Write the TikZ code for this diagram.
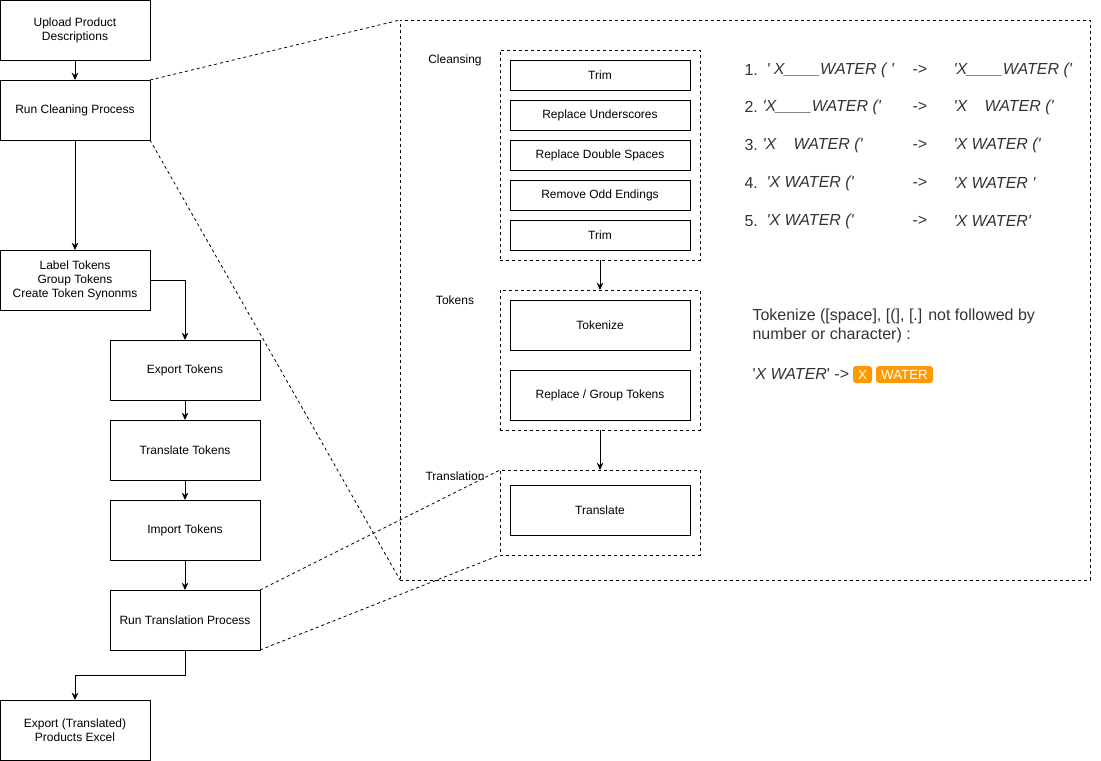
\documentclass[tikz,border=0pt]{standalone}
\usepackage{fontspec}
\newfontfamily\arialfont{Liberation Sans}
\usetikzlibrary{positioning,arrows.meta}
\definecolor{tokenorange}{HTML}{FF9900}
\definecolor{notegray}{HTML}{333333}

\begin{document}
\begin{tikzpicture}[x=0.75pt, y=-0.75pt, line width=0.75pt,
    font=\arialfont\fontsize{9}{10.5}\selectfont,
    >={Stealth[length=5.5pt,width=5pt]},
    box/.style={draw, rectangle, minimum width=112.5pt, minimum height=45pt, align=center, inner sep=1pt, outer sep=0pt},
    task/.style={draw, rectangle, minimum width=135pt, minimum height=22.5pt, align=center, inner sep=1pt, outer sep=0pt},
    group/.style={draw, rectangle, dashed, dash pattern=on 2.25pt off 2.25pt, line width=0.6pt, minimum width=150pt, outer sep=0pt},
    zoomline/.style={dashed, dash pattern=on 2.25pt off 2.25pt, line width=0.6pt},
    note/.style={anchor=west, inner sep=0pt, text=notegray, font=\arialfont\fontsize{12}{14}\selectfont},
    badge/.style={fill=tokenorange, text=white, rounded corners=2.25pt, inner sep=0pt, minimum height=12.75pt, font=\arialfont\fontsize{10}{12}\selectfont}]
    \useasboundingbox (0,0) rectangle (1101,761);

    % main flow
    \node (upload) [box] at (75,30) {Upload Product\\Descriptions};
    \node (cleaning) [box, below=15pt of upload] {Run Cleaning Process};
    \node (labels) [box, below=82.5pt of cleaning] {Label Tokens\\Group Tokens\\Create Token Synonms};
    \node (export) [box] at (185,370) {Export Tokens};
    \node (translate) [box, below=15pt of export] {Translate Tokens};
    \node (import) [box, below=15pt of translate] {Import Tokens};
    \node (runtrans) [box, below=22.5pt of import] {Run Translation Process};
    \node (final) [box] at (75,730) {Export (Translated)\\Products Excel};

    \draw[->] (upload) -- (cleaning);
    \draw[->] (cleaning) -- (labels);
    \draw[->] (labels.east) -| (export.north);
    \draw[->] (export) -- (translate);
    \draw[->] (translate) -- (import);
    \draw[->] (import) -- (runtrans);
    \draw[->] (runtrans.south) |- (75,675) -- (final.north);

    % detail of the cleaning / translation process
    \node (detail) [group, minimum width=517.5pt, minimum height=420pt] at (745,300) {};
    \node (cleansing) [group, minimum height=157.5pt] at (600,155) {};
    \node (tokens) [group, minimum height=105pt] at (600,360) {};
    \node (translation) [group, minimum height=63.75pt] at (600,512.5) {};
    \node (cleansinglabel) at (455,60) {Cleansing};
    \node (tokenslabel) at (455,300) {Tokens};
    \node (translationlabel) at (455,476) {Translation};

    \node (trim1) [task] at (600,75) {Trim};
    \node (underscores) [task, below=7.5pt of trim1] {Replace Underscores};
    \node (doublespaces) [task, below=7.5pt of underscores] {Replace Double Spaces};
    \node (oddendings) [task, below=7.5pt of doublespaces] {Remove Odd Endings};
    \node (trim2) [task, below=7.5pt of oddendings] {Trim};
    \node (tokenize) [task, minimum height=37.5pt] at (600,325) {Tokenize};
    \node (replacegroup) [task, minimum height=37.5pt, below=15pt of tokenize] {Replace / Group Tokens};
    \node (translatetask) [task, minimum height=37.5pt] at (600,510) {Translate};

    \draw[->] (cleansing) -- (tokens);
    \draw[->] (tokens) -- (translation);

    \draw[zoomline] (cleaning.north east) -- (detail.north west);
    \draw[zoomline] (cleaning.south east) -- (detail.south west);
    \draw[zoomline] (runtrans.north east) -- (translation.north west);
    \draw[zoomline] (runtrans.south east) -- (translation.south west);

    % cleansing examples
    \node (num1) [note] at (744,70) {1.};
    \node (rule1from) [note] at (766,70) {\textit{' X\_\_\_\_WATER ( '}};
    \node (rule1to) [note] at (953,70) {\textit{'X\_\_\_\_WATER ('}};
    \node (num2) [note] at (744,107) {2.};
    \node (rule2from) [note] at (762,107) {\textit{'X\_\_\_\_WATER ('}};
    \node (rule2to) [note] at (953,107) {\textit{'X\hspace{13pt}WATER ('}};
    \node (num3) [note] at (744,145) {3.};
    \node (rule3from) [note] at (762,145) {\textit{'X\hspace{13pt}WATER ('}};
    \node (rule3to) [note] at (953,145) {\textit{'X WATER ('}};
    \node (num4) [note] at (744,183) {4.};
    \node (rule4from) [note] at (766,183) {\textit{'X WATER ('}};
    \node (rule4to) [note] at (953,183) {\textit{'X WATER '}};
    \node (num5) [note] at (744,221) {5.};
    \node (rule5from) [note] at (766,221) {\textit{'X WATER ('}};
    \node (rule5to) [note] at (953,221) {\textit{'X WATER'}};
    \foreach \y in {70,107,145,183,221}
        \node [note] at (912,\y) {->};

    % tokenize example
    \node (tokenrule) [note, align=left] at (752,326) {Tokenize ([space], [(], [.] not followed by\\number or character) :};
    \node (tokenexample) [note] at (752,374) {'\textit{X WATER}' ->};
    \node (badgex) [badge, minimum width=14.25pt] at (862.5,374.5) {X};
    \node (badgewater) [badge, minimum width=42.75pt] at (904.5,374.5) {WATER};
\end{tikzpicture}
\end{document}
